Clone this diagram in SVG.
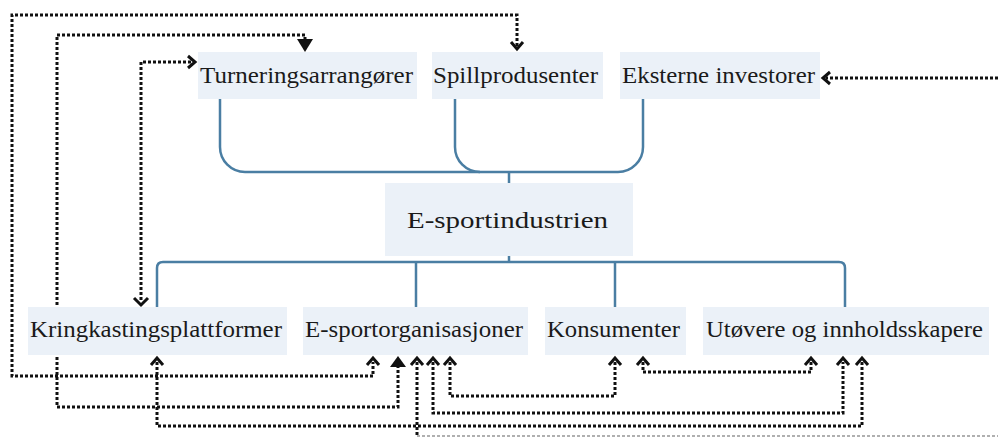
<svg xmlns="http://www.w3.org/2000/svg" width="998" height="441" viewBox="0 0 998 441">
<style>
.box{fill:#ebf1f8}
.lbl{font-family:"Liberation Serif","Times New Roman",serif;font-size:23px;fill:#1a1a1a}
.big{font-size:24px}
.tree{fill:none;stroke:#4a7ea3;stroke-width:2.5}
.dot{fill:none;stroke:#111;stroke-width:3;stroke-dasharray:3 2}
.faint{fill:none;stroke:#b0b0b0;stroke-width:2;stroke-dasharray:3 2}
.ah{fill:none;stroke:#111;stroke-width:3;stroke-linejoin:miter}
.ahf{fill:#111}
</style>
<rect width="998" height="441" fill="#ffffff"/>
<g id="connectors">
  <path class="tree" d="M220,99 V147 A25,25 0 0 0 245,172 H618 A25,25 0 0 0 643,147 V99"/>
  <path class="tree" d="M455,99 V147 A25,25 0 0 0 480,172"/>
  <path class="tree" d="M509,172 V183"/>
  <path class="tree" d="M509,256 V262"/>
  <path class="tree" d="M157,307 V268 Q157,262 163,262 H839 Q845,262 845,268 V307"/>
  <path class="tree" d="M416,262 V307"/>
  <path class="tree" d="M615,262 V307"/>

  <path class="dot" d="M517,46 V15 H12 V376 H373 V362"/>
  <polyline class="ah" points="511,42 517,49 523,42"/>
  <polyline class="ah" points="367,365 373,358 379,365"/>

  <path class="dot" d="M305,40 V35 H57 V407 H398 V366"/>
  <polygon class="ahf" points="297,39 313,39 305,52"/>
  <polygon class="ahf" points="390,367 406,367 398,356"/>

  <path class="dot" d="M191,62 H141 V300"/>
  <polyline class="ah" points="188,56 195,62 188,68"/>
  <polyline class="ah" points="134,298 141,305 148,298"/>

  <path class="dot" d="M998,78 H826"/>
  <polyline class="ah" points="830,72 823,78 830,84"/>

  <path class="dot" d="M157,362 V426 H862 V362"/>
  <polyline class="ah" points="151,365 157,358 163,365"/>
  <polyline class="ah" points="856,365 862,358 868,365"/>

  <path class="dot" d="M433,362 V413 H843 V362"/>
  <polyline class="ah" points="427,365 433,358 439,365"/>
  <polyline class="ah" points="837,365 843,358 849,365"/>

  <path class="dot" d="M450,362 V396 H615 V362"/>
  <polyline class="ah" points="444,365 450,358 456,365"/>
  <polyline class="ah" points="609,365 615,358 621,365"/>

  <path class="dot" d="M643,362 V372 H811 V362"/>
  <polyline class="ah" points="637,365 643,358 649,365"/>
  <polyline class="ah" points="805,365 811,358 817,365"/>

  <path class="dot" d="M417,362 V436"/>
  <path class="faint" d="M417,436 H998"/>
  <polyline class="ah" points="411,365 417,358 423,365"/>
</g>
<g id="node-turneringsarrangorer">
  <rect class="box" x="198" y="52" width="219" height="47"/>
  <text class="lbl" x="200" y="83" textLength="213" lengthAdjust="spacingAndGlyphs">Turneringsarrangører</text>
</g>
<g id="node-spillprodusenter">
  <rect class="box" x="432" y="52" width="171" height="47"/>
  <text class="lbl" x="433" y="83" textLength="165" lengthAdjust="spacingAndGlyphs">Spillprodusenter</text>
</g>
<g id="node-eksterne-investorer">
  <rect class="box" x="620" y="52" width="200" height="47"/>
  <text class="lbl" x="622" y="83" textLength="193" lengthAdjust="spacingAndGlyphs">Eksterne investorer</text>
</g>
<g id="node-e-sportindustrien">
  <rect class="box" x="385" y="183" width="248" height="73"/>
  <text class="lbl big" x="407" y="228" textLength="201" lengthAdjust="spacingAndGlyphs">E-sportindustrien</text>
</g>
<g id="node-kringkastingsplattformer">
  <rect class="box" x="28" y="307" width="259" height="48"/>
  <text class="lbl" x="30" y="337" textLength="252" lengthAdjust="spacingAndGlyphs">Kringkastingsplattformer</text>
</g>
<g id="node-e-sportorganisasjoner">
  <rect class="box" x="303" y="307" width="225" height="48"/>
  <text class="lbl" x="305" y="337" textLength="218" lengthAdjust="spacingAndGlyphs">E-sportorganisasjoner</text>
</g>
<g id="node-konsumenter">
  <rect class="box" x="545" y="307" width="141" height="48"/>
  <text class="lbl" x="547" y="337" textLength="133" lengthAdjust="spacingAndGlyphs">Konsumenter</text>
</g>
<g id="node-utovere">
  <rect class="box" x="703" y="307" width="286" height="48"/>
  <text class="lbl" x="706" y="337" textLength="277" lengthAdjust="spacingAndGlyphs">Utøvere og innholdsskapere</text>
</g>
</svg>
